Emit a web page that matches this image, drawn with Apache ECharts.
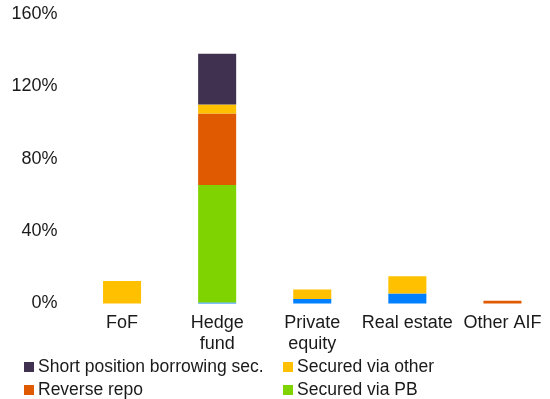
<!DOCTYPE html>
<html><head><meta charset="utf-8">
<script src="https://cdn.jsdelivr.net/npm/echarts@6/dist/echarts.min.js"></script>
<style>html,body{margin:0;padding:0;background:#fff}#c{width:550px;height:399px}</style>
</head><body><div id="c"></div>
<script>
const categories = ['FoF', 'Hedge\nfund', 'Private\nequity', 'Real estate', 'Other AIF'];
const unsecured = [0, 0.5, 2.5, 5.5, 0];
const securedPB = [0, 65, 0, 0, 0];
const reverseRepo = [0, 39.5, 0, 0, 1.5];
const securedOther = [12.5, 5, 5.3, 9.5, 0];
const shortPos = [0, 28, 0, 0, 0];
const yTicks = [0, 40, 80, 120, 160];

const font = 'Liberation Sans, Arial, sans-serif';
const chart = echarts.init(document.getElementById('c'));
function s(name, data, color) {
  return {name, type: 'bar', stack: 't', data, barWidth: '40%', itemStyle: {color}};
}
function lg(name, left, top) {
  return {left, top, icon: 'rect', itemWidth: 10, itemHeight: 10, data: [name],
    textStyle: {color: '#1a1a1a', fontFamily: font, fontSize: 17.5, padding: [0,0,0,-1]}};
}
chart.setOption({
  animation: false,
  grid: {left: 74.5, right: -4.5, top: 14, bottom: 95.5, containLabel: false},
  xAxis: {type: 'category', data: categories,
    axisLine: {show: false}, axisTick: {show: false},
    axisLabel: {color: '#1a1a1a', fontFamily: font, fontSize: 18, lineHeight: 21, margin: 9, interval: 0}},
  yAxis: {type: 'value', min: yTicks[0], max: yTicks[yTicks.length-1], interval: 40,
    splitLine: {show: false}, axisLine: {show: false}, axisTick: {show: false},
    axisLabel: {color: '#1a1a1a', fontFamily: font, fontSize: 18, margin: 17, formatter: v => v + '%'}},
  legend: [
    lg('Short position borrowing sec.', 19, 353),
    lg('Reverse repo', 19, 376),
    lg('Secured via other', 278, 353),
    lg('Secured via PB', 278, 376)
  ],
  series: [
    s('Unsecured', unsecured, '#0080FF'),
    s('Secured via PB', securedPB, '#7FD300'),
    s('Reverse repo', reverseRepo, '#DF5A00'),
    s('Secured via other', securedOther, '#FFC000'),
    s('Short position borrowing sec.', shortPos, '#403151')
  ]
});
</script></body></html>
